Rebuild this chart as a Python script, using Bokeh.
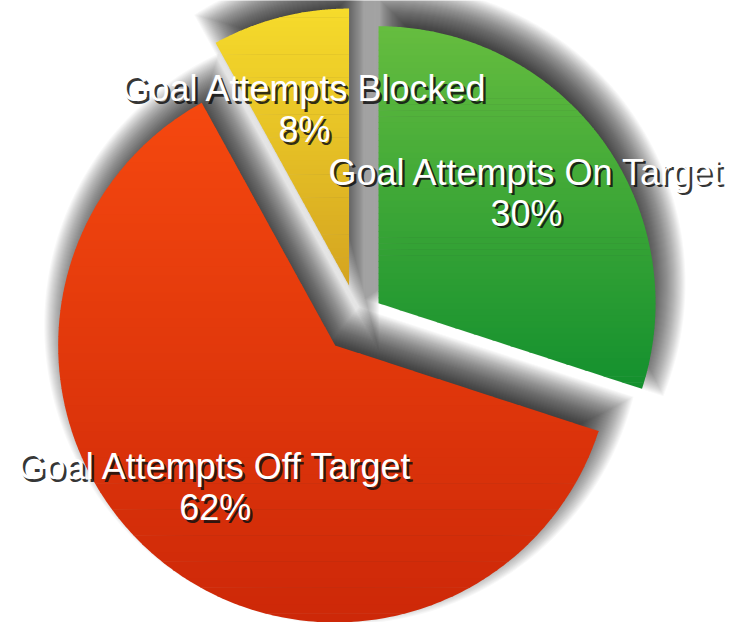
import numpy as np
from bokeh.plotting import figure
from bokeh.models import Range1d
from bokeh.core.properties import value
from bokeh.embed import file_html
from bokeh.resources import INLINE

# ---- data ----
categories = ["Goal Attempts On Target", "Goal Attempts Off Target", "Goal Attempts Blocked"]
values = [30, 62, 8]
colors_top = ["#66bd3f", "#f5480f", "#f6db2b"]
colors_bottom = ["#13902e", "#cd2808", "#d4a420"]

# ---- layout / style ----
W, H = 745, 622
CX, CY = 357, 304
R = 277
EXPLODE = [26, 35, 34]
LABEL_DIST = [183, 188, 179]
LABEL_DY = 3
LINE_GAP = 41
SHADOW_DX, SHADOW_DY = 8, 20
SHADOW_IN, SHADOW_OUT = -24.0, 22.0
SHADOW_LAYERS = 46
SHADOW_MAX = 0.7
NBANDS = 60
FONT = "Liberation Sans"
FONT_SIZE = "36px"

p = figure(width=W, height=H, output_backend="svg", toolbar_location=None,
           x_range=Range1d(0, W), y_range=Range1d(0, H), min_border=0)
p.axis.visible = False
p.grid.visible = False
p.outline_line_color = None
p.background_fill_color = "white"
p.border_fill_color = "white"


def hex2rgb(h):
    h = h.lstrip("#")
    return np.array([int(h[i:i + 2], 16) for i in (0, 2, 4)], dtype=float)


def mix(c1, c2, t):
    c = hex2rgb(c1) * (1 - t) + hex2rgb(c2) * t
    return "#%02x%02x%02x" % tuple(int(round(v)) for v in c)


def clip(poly, c, keep_above):
    out = []
    n = len(poly)
    for i in range(n):
        P = poly[i]
        Q = poly[(i + 1) % n]
        pin = (P[1] >= c) if keep_above else (P[1] <= c)
        qin = (Q[1] >= c) if keep_above else (Q[1] <= c)
        if pin:
            out.append(P)
        if pin != qin:
            t = (c - P[1]) / (Q[1] - P[1])
            out.append((P[0] + t * (Q[0] - P[0]), c))
    return out


def wedge_poly(ax, ay, a0, a1, r, delta=0.0, npts=240):
    """Wedge with apex (ax, ay) from angle a0 clockwise to a1, grown by delta."""
    half = (a0 - a1) / 2
    mid = (a0 + a1) / 2
    k = delta / np.sin(half)
    px, py = ax - k * np.cos(mid), ay - k * np.sin(mid)
    rr = r + delta
    phi = np.arcsin(delta / rr)
    th = np.linspace(a0 + phi, a1 - phi, npts)
    return [(px, py)] + [(ax + rr * np.cos(t), ay + rr * np.sin(t)) for t in th]


total = float(sum(values))
cum = 0.0
slices = []
for i, v in enumerate(values):
    a0 = np.deg2rad(90 - 360 * cum / total)
    a1 = np.deg2rad(90 - 360 * (cum + v) / total)
    cum += v
    mid = (a0 + a1) / 2
    ax = CX + EXPLODE[i] * np.cos(mid)
    ay = CY + EXPLODE[i] * np.sin(mid)
    slices.append(dict(a0=a0, a1=a1, mid=mid, ax=ax, ay=ay, v=v, i=i,
                       poly=wedge_poly(ax, ay, a0, a1, R)))

# ---- soft drop shadows (stack of grown/shrunk wedges) ----
alpha = 1 - (1 - SHADOW_MAX) ** (1.0 / SHADOW_LAYERS)
for delta in np.linspace(SHADOW_IN, SHADOW_OUT, SHADOW_LAYERS):
    xs, ys = [], []
    for s in slices:
        poly = wedge_poly(s["ax"], s["ay"], s["a0"], s["a1"], R, delta, 160)
        xs.append([x + SHADOW_DX for x, y in poly])
        ys.append([y + SHADOW_DY for x, y in poly])
    p.patches(xs, ys, fill_color="black", fill_alpha=alpha, line_color=None)

# ---- gradient slices ----
for s in slices:
    poly = s["poly"]
    ys = [pt[1] for pt in poly]
    ymax, ymin = max(ys), min(ys)
    h = (ymax - ymin) / NBANDS
    bxs, bys, bcol = [], [], []
    for k in range(NBANDS):
        yhi = ymax - k * h + (0.6 if k > 0 else 0)
        ylo = ymax - (k + 1) * h
        part = clip(clip(poly, ylo, True), yhi, False)
        if len(part) < 3:
            continue
        bxs.append([q[0] for q in part])
        bys.append([q[1] for q in part])
        bcol.append(mix(colors_top[s["i"]], colors_bottom[s["i"]], (k + 0.5) / NBANDS))
    p.patches(bxs, bys, fill_color=bcol, line_color=None)

# ---- labels ----
for s in slices:
    d = LABEL_DIST[s["i"]]
    lx = s["ax"] + d * np.cos(s["mid"])
    ly = s["ay"] + d * np.sin(s["mid"]) + LABEL_DY
    lines = [categories[s["i"]], "%d%%" % round(100 * s["v"] / total)]
    for j, txt in enumerate(lines):
        yy = ly + LINE_GAP / 2 - LINE_GAP * j
        p.text(x=[lx + 2.5], y=[yy - 2.5], text=[txt], text_align="center",
               text_baseline="middle", text_font=value(FONT), text_font_size=FONT_SIZE,
               text_color="#111111", text_alpha=0.85)
        p.text(x=[lx], y=[yy], text=[txt], text_align="center",
               text_baseline="middle", text_font=value(FONT), text_font_size=FONT_SIZE,
               text_color="white")

open("out.html", "w").write(file_html(p, INLINE))
